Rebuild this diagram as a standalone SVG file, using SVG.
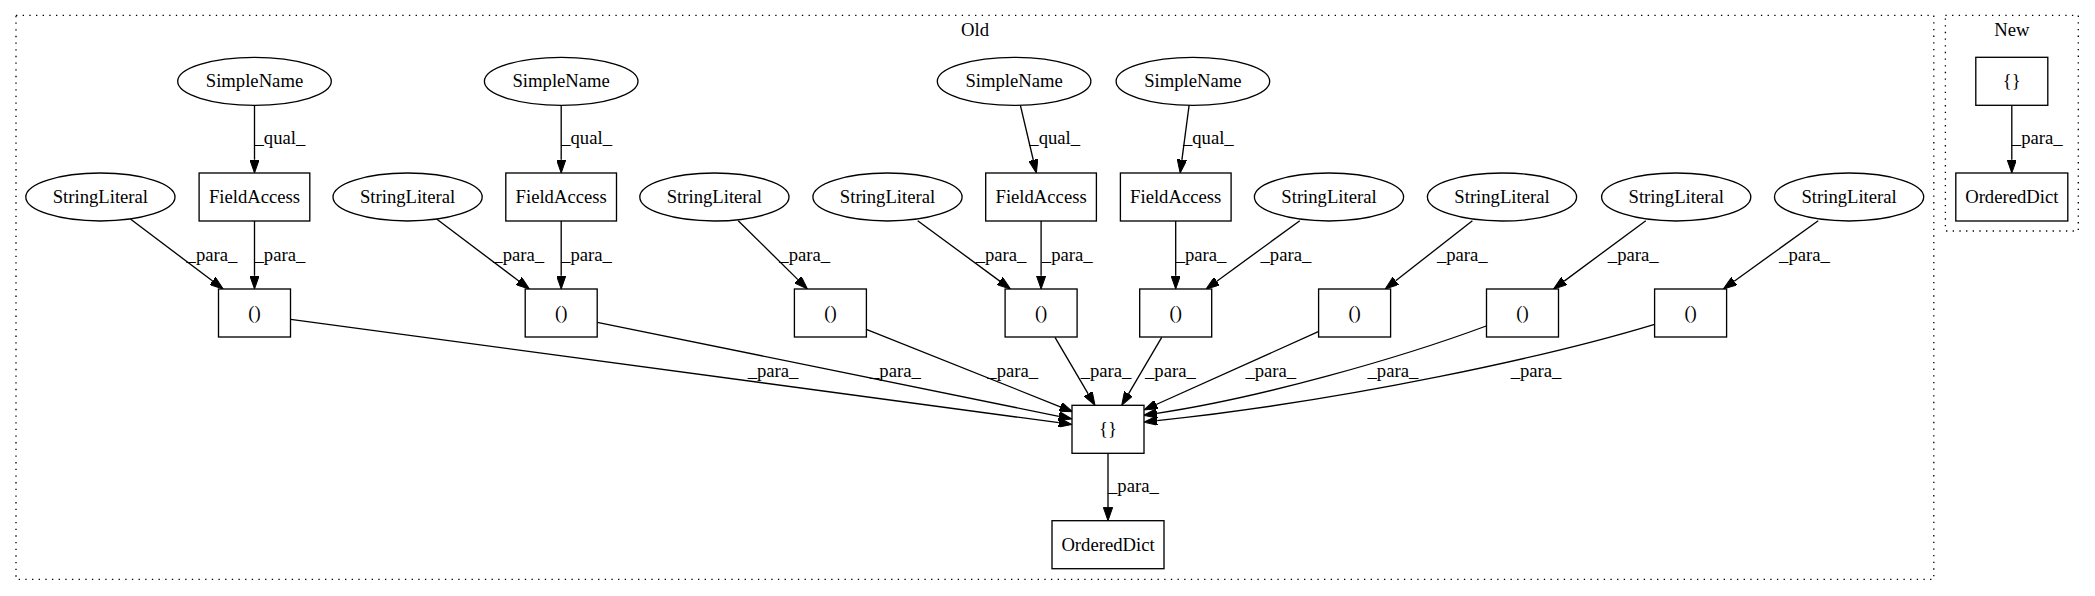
<svg xmlns="http://www.w3.org/2000/svg" width="2095" height="596" viewBox="0 0 2095 596">
<style>
text{font-family:"Liberation Serif","Times New Roman",serif;font-size:18.67px;fill:#000}
.n{text-anchor:middle}
.shape{fill:#fff;stroke:#000;stroke-width:1.33}
.cl{fill:none;stroke:#000;stroke-width:1.33;stroke-dasharray:1.33,5.33}
.e{fill:none;stroke:#000;stroke-width:1.33}
</style>
<defs>
<marker id="arr" markerUnits="userSpaceOnUse" viewBox="0 0 13.33 9.33" refX="0" refY="4.67" markerWidth="13.33" markerHeight="9.33" orient="auto">
<path d="M0,0 L13.33,4.67 L0,9.33 z" fill="#000" stroke="#000" stroke-width="1"/>
</marker>
</defs>
<rect width="2095" height="596" fill="#fff"/>
<g id="cluster_old">
<rect class="cl" x="16" y="15.3" width="1917.8" height="564"/>
<text class="n" x="975" y="36">Old</text>
</g>
<g id="cluster_new">
<rect class="cl" x="1945.4" y="15.3" width="132.9" height="215.7"/>
<text class="n" x="2011.9" y="36">New</text>
</g>
<g id="edges">
<path class="e" marker-end="url(#arr)" d="M254.5,105.3 L254.5,159.7"/>
<text x="254.5" y="144">_qual_</text>
<path class="e" marker-end="url(#arr)" d="M561.2,105.3 L561.2,159.7"/>
<text x="561.2" y="144">_qual_</text>
<path class="e" marker-end="url(#arr)" d="M1020.4,105.3 L1033.3,160"/>
<text x="1029.3" y="144">_qual_</text>
<path class="e" marker-end="url(#arr)" d="M1189.1,105.3 L1181.9,159.8"/>
<text x="1182.9" y="144">_qual_</text>

<path class="e" marker-end="url(#arr)" d="M130.4,219 L212.6,281"/>
<text x="186.6" y="260.5">_para_</text>
<path class="e" marker-end="url(#arr)" d="M254.5,221 L254.5,275.7"/>
<text x="254.5" y="260.5">_para_</text>
<path class="e" marker-end="url(#arr)" d="M436.6,219 L518.8,281"/>
<text x="493.3" y="260.5">_para_</text>
<path class="e" marker-end="url(#arr)" d="M561.2,221 L561.2,275.7"/>
<text x="561.2" y="260.5">_para_</text>
<path class="e" marker-end="url(#arr)" d="M738.2,220.7 L797.9,279.6"/>
<text x="779.3" y="260.5">_para_</text>
<path class="e" marker-end="url(#arr)" d="M917.7,220.7 L999.8,281.1"/>
<text x="975.7" y="260.5">_para_</text>
<path class="e" marker-end="url(#arr)" d="M1041.1,221 L1041.1,275.7"/>
<text x="1041.8" y="260.5">_para_</text>
<path class="e" marker-end="url(#arr)" d="M1175.7,221 L1175.7,275.7"/>
<text x="1175.7" y="260.5">_para_</text>
<path class="e" marker-end="url(#arr)" d="M1299.8,220.7 L1216.8,281.2"/>
<text x="1260.5" y="260.5">_para_</text>
<path class="e" marker-end="url(#arr)" d="M1472.4,220.7 L1395.7,280.8"/>
<text x="1436.9" y="260.5">_para_</text>
<path class="e" marker-end="url(#arr)" d="M1645.8,220.7 L1564.2,281.1"/>
<text x="1607.8" y="260.5">_para_</text>
<path class="e" marker-end="url(#arr)" d="M1818.2,220.7 L1734.2,281.2"/>
<text x="1779.1" y="260.5">_para_</text>

<path class="e" marker-end="url(#arr)" d="M290.7,319.3 L1058.8,422.7"/>
<text x="747.7" y="377">_para_</text>
<path class="e" marker-end="url(#arr)" d="M597.3,322.3 L1058.9,416.3"/>
<text x="870" y="377">_para_</text>
<path class="e" marker-end="url(#arr)" d="M866.3,329.3 L1060.3,406.8"/>
<text x="987.3" y="377">_para_</text>
<path class="e" marker-end="url(#arr)" d="M1055,337.3 L1088.2,393.8"/>
<text x="1080.7" y="377">_para_</text>
<path class="e" marker-end="url(#arr)" d="M1161.7,337.3 L1128.5,393.8"/>
<text x="1145" y="377">_para_</text>
<path class="e" marker-end="url(#arr)" d="M1318.3,331.7 L1156.2,404.5"/>
<text x="1245.4" y="377">_para_</text>
<path class="e" marker-end="url(#arr)" d="M1486.2,326 C1400,358 1260,398 1156.9,413.3"/>
<text x="1367.5" y="377">_para_</text>
<path class="e" marker-end="url(#arr)" d="M1654.6,324.3 C1550,356 1350,400 1157.2,420.7"/>
<text x="1510.7" y="377">_para_</text>

<path class="e" marker-end="url(#arr)" d="M1108,453.3 L1108,507.4"/>
<text x="1108" y="492">_para_</text>
<path class="e" marker-end="url(#arr)" d="M2011.8,105.3 L2011.8,159.7"/>
<text x="2011.8" y="144">_para_</text>
</g>
<g id="sn1"><ellipse class="shape" cx="254.5" cy="81.3" rx="76.8" ry="24"/><text class="n" x="254.5" y="87">SimpleName</text></g>
<g id="sn2"><ellipse class="shape" cx="561.2" cy="81.3" rx="76.8" ry="24"/><text class="n" x="561.2" y="87">SimpleName</text></g>
<g id="sn3"><ellipse class="shape" cx="1014.1" cy="81.3" rx="76.8" ry="24"/><text class="n" x="1014.1" y="87">SimpleName</text></g>
<g id="sn4"><ellipse class="shape" cx="1192.9" cy="81.3" rx="76.8" ry="24"/><text class="n" x="1192.9" y="87">SimpleName</text></g>

<g id="fa1"><rect class="shape" x="199.1" y="173" width="110.7" height="48"/><text class="n" x="254.5" y="203">FieldAccess</text></g>
<g id="fa2"><rect class="shape" x="505.8" y="173" width="110.7" height="48"/><text class="n" x="561.2" y="203">FieldAccess</text></g>
<g id="fa3"><rect class="shape" x="985.7" y="173" width="110.7" height="48"/><text class="n" x="1041.1" y="203">FieldAccess</text></g>
<g id="fa4"><rect class="shape" x="1120.4" y="173" width="110.7" height="48"/><text class="n" x="1175.7" y="203">FieldAccess</text></g>

<g id="sl1"><ellipse class="shape" cx="100.4" cy="197" rx="74.6" ry="24"/><text class="n" x="100.4" y="203">StringLiteral</text></g>
<g id="sl2"><ellipse class="shape" cx="407.6" cy="197" rx="74.6" ry="24"/><text class="n" x="407.6" y="203">StringLiteral</text></g>
<g id="sl3"><ellipse class="shape" cx="714.4" cy="197" rx="74.6" ry="24"/><text class="n" x="714.4" y="203">StringLiteral</text></g>
<g id="sl4"><ellipse class="shape" cx="887.5" cy="197" rx="74.6" ry="24"/><text class="n" x="887.5" y="203">StringLiteral</text></g>
<g id="sl5"><ellipse class="shape" cx="1329" cy="197" rx="74.6" ry="24"/><text class="n" x="1329" y="203">StringLiteral</text></g>
<g id="sl6"><ellipse class="shape" cx="1502" cy="197" rx="74.6" ry="24"/><text class="n" x="1502" y="203">StringLiteral</text></g>
<g id="sl7"><ellipse class="shape" cx="1676.2" cy="197" rx="74.6" ry="24"/><text class="n" x="1676.2" y="203">StringLiteral</text></g>
<g id="sl8"><ellipse class="shape" cx="1849.1" cy="197" rx="74.6" ry="24"/><text class="n" x="1849.1" y="203">StringLiteral</text></g>

<g id="p1"><rect class="shape" x="218.5" y="289" width="72" height="48"/><text class="n" x="254.5" y="319">()</text></g>
<g id="p2"><rect class="shape" x="525.2" y="289" width="72" height="48"/><text class="n" x="561.2" y="319">()</text></g>
<g id="p3"><rect class="shape" x="794.4" y="289" width="72" height="48"/><text class="n" x="830.4" y="319">()</text></g>
<g id="p4"><rect class="shape" x="1005.1" y="289" width="72" height="48"/><text class="n" x="1041.1" y="319">()</text></g>
<g id="p5"><rect class="shape" x="1139.7" y="289" width="72" height="48"/><text class="n" x="1175.7" y="319">()</text></g>
<g id="p6"><rect class="shape" x="1318.6" y="289" width="72" height="48"/><text class="n" x="1354.6" y="319">()</text></g>
<g id="p7"><rect class="shape" x="1486.5" y="289" width="72" height="48"/><text class="n" x="1522.5" y="319">()</text></g>
<g id="p8"><rect class="shape" x="1654.6" y="289" width="72" height="48"/><text class="n" x="1690.6" y="319">()</text></g>

<g id="braces_old"><rect class="shape" x="1072" y="405.3" width="72" height="48"/><text class="n" x="1108" y="435">{}</text></g>
<g id="ordereddict_old"><rect class="shape" x="1052" y="520.7" width="112" height="48"/><text class="n" x="1108" y="551">OrderedDict</text></g>
<g id="braces_new"><rect class="shape" x="1975.8" y="57.3" width="72" height="48"/><text class="n" x="2011.8" y="87">{}</text></g>
<g id="ordereddict_new"><rect class="shape" x="1955.8" y="173" width="112" height="48"/><text class="n" x="2011.8" y="203">OrderedDict</text></g>
</svg>
